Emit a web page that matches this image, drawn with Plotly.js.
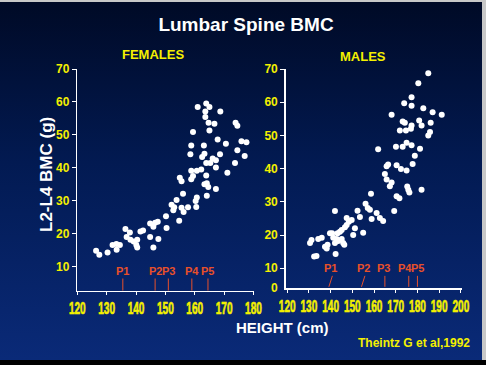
<!DOCTYPE html>
<html>
<head>
<meta charset="utf-8">
<script src="https://cdn.plot.ly/plotly-3.0.1.min.js"></script>
<style>
  html, body { margin: 0; padding: 0; width: 486px; height: 365px; overflow: hidden; background: #c8c8c8; }
  #bg { position: absolute; left: 0; top: 2px; width: 482px; height: 358px;
        background: linear-gradient(to bottom, #000a26 0%, #021a52 45%, #0a2a78 100%); }
  #foot { position: absolute; left: 0; top: 360px; width: 486px; height: 5px; background: #000; }
  #chart { position: absolute; left: 0; top: 0; width: 486px; height: 365px; }
</style>
</head>
<body>
<div id="bg"></div>
<div id="foot"></div>
<div id="chart"></div>
<script>
// ---- data ----
const femaleHeight = [126.4,127.5,130.3,132.0,133.3,133.4,134.5,136.4,137.9,136.8,138.1,139.2,140.4,140.1,140.4,
  141.5,142.4,144.8,145.9,147.6,144.8,146.5,145.9,147.4,150.4,150.2,152.1,152.7,153.0,153.8,154.7,156.0,155.5,
  156.2,157.7,160.5,160.3,160.7,164.1,163.3,164.1,164.6,167.2,154.9,155.5,158.8,159.4,158.8,160.7,162.2,171.1,
  163.9,167.2,163.9,165.3,173.7,166.1,167.2,158.5,163.3,162.5,168.6,177.0,174.5,158.8,163.1,175.9,177.6,170.6,
  167.8,159.4,165.0,173.9,174.5,164.7,166.7,163.6,163.6,168.7,161.0,163.9,165.0];
const femaleBMC = [14.8,13.6,14.3,16.6,16.9,15.1,16.6,21.4,20.4,19.0,18.2,17.6,18.2,16.6,15.8,
  20.7,21.0,19.0,15.8,18.4,23.1,23.3,22.1,23.6,21.7,25.3,28.8,27.1,28.0,30.2,23.9,32.1,27.9,
  26.6,28.0,28.1,29.9,31.0,31.5,35.0,35.3,34.2,33.6,37.0,35.9,36.5,37.5,39.1,39.1,39.5,38.5,
  37.7,40.1,41.5,41.5,41.5,42.8,42.3,44.1,44.3,43.3,44.1,43.6,45.3,46.8,46.8,48.1,47.8,47.3,
  48.6,50.9,51.3,53.7,52.8,53.7,53.4,55.4,57.1,57.1,58.5,59.5,58.5];

const maleHeight = [185.0,180.4,177.3,173.9,177.3,182.7,187.0,191.2,168.1,173.2,174.2,180.8,181.9,186.1,177.3,
  177.0,171.9,174.7,185.8,185.0,175.0,170.1,173.2,177.3,181.2,161.9,178.8,166.5,165.8,170.4,172.4,175.0,177.8,
  165.0,165.8,168.1,167.3,175.3,175.8,176.3,181.9,158.6,170.4,171.7,156.1,157.1,158.1,161.2,169.3,152.4,142.0,
  153.5,149.7,158.9,162.7,164.2,147.4,148.4,147.4,146.6,151.2,145.1,144.3,143.2,155.0,150.4,139.7,140.7,141.2,
  142.8,135.9,134.3,131.2,130.5,142.0,143.5,145.1,132.4,133.5,137.4,138.2,138.6,145.8,146.3,142.3];
const maleBMC = [68.7,65.7,61.5,59.7,58.9,58.2,57.0,56.2,56.2,54.2,53.8,54.5,53.0,53.8,53.0,
  52.0,51.5,51.5,51.0,50.0,47.8,46.6,46.6,47.0,46.0,45.8,43.9,41.2,40.7,41.0,39.9,39.4,41.4,
  38.4,36.7,35.8,34.7,34.6,33.6,32.8,33.6,32.4,31.7,31.1,29.4,28.1,27.6,26.6,27.2,27.3,27.2,
  25.4,24.5,24.8,25.1,24.2,25.1,24.0,23.0,22.3,22.0,21.5,21.0,20.5,20.7,20.0,20.5,20.5,19.2,
  18.8,19.2,18.8,18.5,17.6,17.6,18.2,18.8,13.5,13.7,16.5,15.9,17.1,17.6,17.1,14.3];

const pubertyStages = ['P1','P2','P3','P4','P5'];
const femalePubertyHeight = [135.5, 146.5, 151, 159, 164.5];
const malePubertyHeight = [140, 155, 165, 176, 180];

const xTicksFemale = [120,130,140,150,160,170,180];
const xTicksMale = [120,130,140,150,160,170,180,190,200];
const yTicks = [10,20,30,40,50,60,70];

// ---- drawing ----
const W = 486, H = 365;
const px = x => x / W;
const py = y => 1 - y / H;

const yellow = '#f4f000';
const pColor = '#e8502a';
const sans = '"Liberation Sans", Arial, sans-serif';

const traces = [
  { x: femaleHeight, y: femaleBMC, xaxis: 'x', yaxis: 'y', type: 'scatter', mode: 'markers',
    marker: { color: '#ffffff', size: 6 }, hoverinfo: 'skip', showlegend: false },
  { x: maleHeight, y: maleBMC, xaxis: 'x2', yaxis: 'y2', type: 'scatter', mode: 'markers',
    marker: { color: '#ffffff', size: 6 }, hoverinfo: 'skip', showlegend: false }
];

function xAxis(domain, range, ticks, anchor) {
  return {
    domain: domain, range: range, anchor: anchor, tickvals: ticks, tickangle: 0,
    showgrid: false, zeroline: false, showline: true, linecolor: '#ffffff', linewidth: 1.5,
    ticks: 'outside', ticklen: 3, tickcolor: '#ffffff', tickwidth: 1,
    tickfont: { family: sans, size: 16, color: yellow, weight: 'bold' }, fixedrange: true
  };
}
function yAxis(domain, range, anchor) {
  return {
    domain: domain, range: range, anchor: anchor, tickvals: yTicks,
    showgrid: false, zeroline: false, showline: true, linecolor: '#ffffff', linewidth: 1.5,
    ticks: 'outside', ticklen: 4, tickcolor: '#ffffff', tickwidth: 1,
    tickfont: { family: sans, size: 12, color: yellow, weight: 'bold' }, fixedrange: true
  };
}

const shapes = [];
const annotations = [];
const maleTilt = [0.8, 0.8, 0, 0, 0];
const maleLabelShift = [0, 0, -1, -4, 0];

pubertyStages.forEach((lab, i) => {
  const fx = femalePubertyHeight[i];
  shapes.push({ type: 'line', xref: 'x', yref: 'y', x0: fx, x1: fx, y0: 2.7, y1: 6.4,
    line: { color: pColor, width: 1 } });
  annotations.push({ text: lab, xref: 'x', yref: 'y', x: fx, y: 8.6, showarrow: false,
    xanchor: 'center', yanchor: 'middle', font: { family: sans, size: 11, color: pColor, weight: 'bold' } });
  const mx = malePubertyHeight[i];
  shapes.push({ type: 'line', xref: 'x2', yref: 'y2', x0: mx + maleTilt[i], x1: mx - maleTilt[i], y0: 7.7, y1: 4.4,
    line: { color: pColor, width: 1 } });
  annotations.push({ text: lab, xref: 'x2', yref: 'y2', x: mx, y: 10.0, xshift: maleLabelShift[i], showarrow: false,
    xanchor: 'center', yanchor: 'middle', font: { family: sans, size: 11, color: pColor, weight: 'bold' } });
});

annotations.push(
  { text: 'FEMALES', xref: 'paper', yref: 'paper', x: px(152.5), y: py(55), showarrow: false,
    xanchor: 'center', yanchor: 'middle', font: { family: sans, size: 13, color: yellow, weight: 'bold' } },
  { text: 'MALES', xref: 'paper', yref: 'paper', x: px(362.5), y: py(56), showarrow: false,
    xanchor: 'center', yanchor: 'middle', font: { family: sans, size: 13, color: yellow, weight: 'bold' } },
  { text: 'L2-L4 BMC (g)', xref: 'paper', yref: 'paper', x: px(47), y: py(175), textangle: -90, showarrow: false,
    xanchor: 'center', yanchor: 'middle', font: { family: sans, size: 17, color: '#ffffff', weight: 'bold' } },
  { text: 'HEIGHT (cm)', xref: 'paper', yref: 'paper', x: px(282), y: py(327), showarrow: false,
    xanchor: 'center', yanchor: 'middle', font: { family: sans, size: 15, color: '#ffffff', weight: 'bold' } },
  { text: 'Theintz G et al,1992', xref: 'paper', yref: 'paper', x: px(414), y: py(343), showarrow: false,
    xanchor: 'center', yanchor: 'middle', font: { family: sans, size: 12, color: yellow, weight: 'bold' } },
  { text: '0', xref: 'paper', yref: 'paper', x: px(280), y: py(287.5), showarrow: false,
    xanchor: 'right', yanchor: 'middle', font: { family: sans, size: 12, color: yellow, weight: 'bold' } }
);

const layout = {
  width: W, height: H, autosize: false,
  margin: { l: 0, r: 0, t: 0, b: 0, pad: 0 },
  paper_bgcolor: 'rgba(0,0,0,0)', plot_bgcolor: 'rgba(0,0,0,0)',
  showlegend: false,
  title: { text: 'Lumbar Spine BMC', x: px(246), y: py(24), xref: 'paper', yref: 'paper',
    xanchor: 'center', yanchor: 'middle', font: { family: sans, size: 19, color: '#ffffff', weight: 'bold' } },
  xaxis: xAxis([px(77.3), px(253.5)], [120, 180], xTicksFemale, 'y'),
  yaxis: yAxis([py(290.7), py(69)], [2.7, 70], 'x'),
  xaxis2: xAxis([px(285.7), px(461.7)], [119.3, 200.4], xTicksMale, 'y2'),
  yaxis2: yAxis([py(288.3), py(69)], [3.95, 70], 'x2'),
  shapes: shapes,
  annotations: annotations
};

// condense the x tick labels horizontally, like the narrow heavy lettering of the original slide
function condenseXTicks(gd) {
  gd.querySelectorAll('.xtick text, .x2tick text').forEach(t => {
    const x = parseFloat(t.getAttribute('x') || '0');
    const tr = t.getAttribute('transform') || '';
    t.setAttribute('transform', tr + ' translate(' + x + ',0) scale(0.63,1) translate(' + (-x) + ',0)');
    t.style.stroke = yellow;
    t.style.strokeWidth = '0.6px';
  });
}

Plotly.newPlot('chart', traces, layout, { displayModeBar: false, staticPlot: true }).then(condenseXTicks);
</script>
</body>
</html>
